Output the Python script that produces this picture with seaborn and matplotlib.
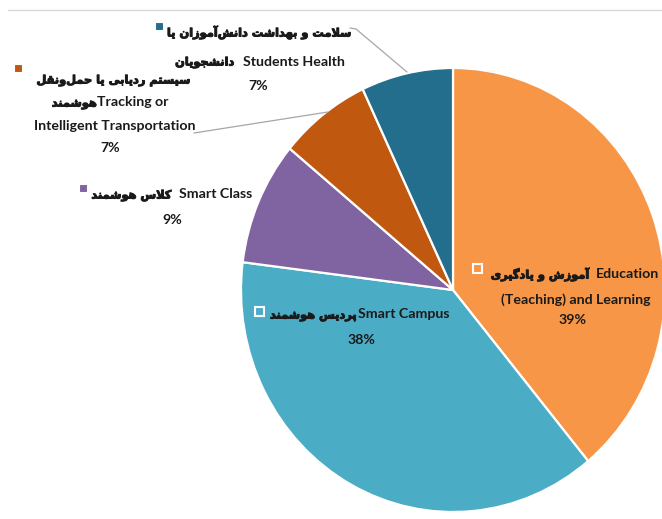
import matplotlib
matplotlib.use("Agg")
import matplotlib.pyplot as plt
import matplotlib.patheffects as pe
import seaborn as sns
from matplotlib.patches import Rectangle
from matplotlib.lines import Line2D

# ---- data -------------------------------------------------------------
categories_en = ["Education (Teaching) and Learning", "Smart Campus", "Smart Class",
                 "Tracking or Intelligent Transportation", "Students Health"]
categories_fa = ["آموزش و یادگیری", "پردیس هوشمند", "کلاس هوشمند",
                 "سیستم ردیابی یا حمل\u200cونقل هوشمند",
                 "سلامت و بهداشت دانش\u200cآموزان یا دانشجویان"]
shares = [39, 38, 9, 7, 7]
slice_colors = ["#F79646", "#4BACC6", "#8064A2", "#C0590F", "#236E8C"]

# ---- minimal Persian shaping (presentation forms + visual order) ------
FORMS = {
    "ا": ("\uFE8D", "\uFE8E"), "آ": ("\uFE81", "\uFE82"),
    "د": ("\uFEA9", "\uFEAA"), "ذ": ("\uFEAB", "\uFEAC"),
    "ر": ("\uFEAD", "\uFEAE"), "ز": ("\uFEAF", "\uFEB0"),
    "ژ": ("\uFB8A", "\uFB8B"), "و": ("\uFEED", "\uFEEE"),
    "ب": ("\uFE8F", "\uFE90", "\uFE91", "\uFE92"),
    "پ": ("\uFB56", "\uFB57", "\uFB58", "\uFB59"),
    "ت": ("\uFE95", "\uFE96", "\uFE97", "\uFE98"),
    "ث": ("\uFE99", "\uFE9A", "\uFE9B", "\uFE9C"),
    "ج": ("\uFE9D", "\uFE9E", "\uFE9F", "\uFEA0"),
    "چ": ("\uFB7A", "\uFB7B", "\uFB7C", "\uFB7D"),
    "ح": ("\uFEA1", "\uFEA2", "\uFEA3", "\uFEA4"),
    "خ": ("\uFEA5", "\uFEA6", "\uFEA7", "\uFEA8"),
    "س": ("\uFEB1", "\uFEB2", "\uFEB3", "\uFEB4"),
    "ش": ("\uFEB5", "\uFEB6", "\uFEB7", "\uFEB8"),
    "ص": ("\uFEB9", "\uFEBA", "\uFEBB", "\uFEBC"),
    "ض": ("\uFEBD", "\uFEBE", "\uFEBF", "\uFEC0"),
    "ط": ("\uFEC1", "\uFEC2", "\uFEC3", "\uFEC4"),
    "ظ": ("\uFEC5", "\uFEC6", "\uFEC7", "\uFEC8"),
    "ع": ("\uFEC9", "\uFECA", "\uFECB", "\uFECC"),
    "غ": ("\uFECD", "\uFECE", "\uFECF", "\uFED0"),
    "ف": ("\uFED1", "\uFED2", "\uFED3", "\uFED4"),
    "ق": ("\uFED5", "\uFED6", "\uFED7", "\uFED8"),
    "ک": ("\uFB8E", "\uFB8F", "\uFB90", "\uFB91"),
    "گ": ("\uFB92", "\uFB93", "\uFB94", "\uFB95"),
    "ل": ("\uFEDD", "\uFEDE", "\uFEDF", "\uFEE0"),
    "م": ("\uFEE1", "\uFEE2", "\uFEE3", "\uFEE4"),
    "ن": ("\uFEE5", "\uFEE6", "\uFEE7", "\uFEE8"),
    "ه": ("\uFEE9", "\uFEEA", "\uFEEB", "\uFEEC"),
    "ی": ("\uFBFC", "\uFBFD", "\uFBFE", "\uFBFF"),
}
LAM_ALEF = {"ا": ("\uFEFB", "\uFEFC"), "آ": ("\uFEF5", "\uFEF6")}


def dual(c):
    return c in FORMS and len(FORMS[c]) == 4


def fa(text):
    """Join Persian letters into presentation forms, return in visual order."""
    out = []
    i, n = 0, len(text)
    while i < n:
        c = text[i]
        if c not in FORMS:
            if c != "\u200c":
                out.append(c)
            i += 1
            continue
        prev_joins = i > 0 and dual(text[i - 1])
        if c == "ل" and i + 1 < n and text[i + 1] in LAM_ALEF:
            out.append(LAM_ALEF[text[i + 1]][1 if prev_joins else 0])
            i += 2
            continue
        next_joins = dual(c) and i + 1 < n and text[i + 1] in FORMS
        f = FORMS[c]
        if prev_joins and next_joins:
            out.append(f[3])
        elif prev_joins:
            out.append(f[1])
        elif next_joins:
            out.append(f[2])
        else:
            out.append(f[0])
        i += 1
    return "".join(out)[::-1]


# ---- label lines: each line is (segments, gap in px) -------------------
pct = [f"{v}%" for v in shares]
fa_w = [s.split(" ") for s in categories_fa]
en_w = [s.split(" ") for s in categories_en]

label_lines = [
    [([(fa(categories_fa[0]), "fa"), (en_w[0][0], "en")], 7),
     ([(" ".join(en_w[0][1:]), "en")], 0),
     ([(pct[0], "en")], 0)],
    [([(fa(categories_fa[1]), "fa"), (categories_en[1], "en")], 2),
     ([(pct[1], "en")], 0)],
    [([(fa(categories_fa[2]), "fa"), (categories_en[2], "en")], 8),
     ([(pct[2], "en")], 0)],
    [([(fa(" ".join(fa_w[3][:-1])), "fa")], 0),
     ([(fa(fa_w[3][-1]), "fa"), (" ".join(en_w[3][:2]), "en")], 0),
     ([(" ".join(en_w[3][2:]), "en")], 0),
     ([(pct[3], "en")], 0)],
    [([(fa(" ".join(fa_w[4][:-1])), "fa")], 0),
     ([(fa(fa_w[4][-1]), "fa"), (categories_en[4], "en")], 9),
     ([(pct[4], "en")], 0)],
]

# pixel layout of each label block: marker position and line centres
label_layout = [
    dict(marker=(477, 268), lines=[(575, 274), (576, 299), (573, 320)]),
    dict(marker=(259, 311), lines=[(360, 314), (361, 340)]),
    dict(marker=(83, 188), lines=[(172, 194), (172, 219)]),
    dict(marker=(18, 68), lines=[(113, 79), (110, 102), (115, 126), (110, 147)]),
    dict(marker=(159, 26), lines=[(259, 32), (260, 61), (258, 85)]),
]

# ---- figure -----------------------------------------------------------
sns.set_theme(style="white")
plt.rcParams["font.family"] = ["Lato", "DejaVu Sans"]

TEXT_COLOR = "#1a1a1a"
STYLES = {
    "fa": dict(family=["DejaVu Sans"], fontsize=8.2, fontweight="bold",
               path_effects=[pe.withStroke(linewidth=0.7, foreground=TEXT_COLOR)]),
    "en": dict(family=["Lato", "DejaVu Sans"], fontsize=10.2, fontweight="bold"),
}

W, H = 662, 519
fig = plt.figure(figsize=(W / 100, H / 100), dpi=100)
fig.patch.set_facecolor("white")

# pie axes: centre (453, 290), radii 212 x 222 px
cx, cy, rx, ry = 453, 290, 212, 222
ax = fig.add_axes([(cx - rx) / W, (H - cy - ry) / H, 2 * rx / W, 2 * ry / H])
palette = sns.color_palette(slice_colors)
ax.pie(shares, colors=palette, startangle=90, counterclock=False,
       wedgeprops=dict(edgecolor="white", linewidth=1.6))
ax.set_aspect("auto")
ax.set_xlim(-1, 1)
ax.set_ylim(-1, 1)
ax.axis("off")

# overlay axes in pixel units for labels and leader lines
ov = fig.add_axes([0, 0, 1, 1], zorder=5)
ov.set_xlim(0, W)
ov.set_ylim(H, 0)
ov.axis("off")
ov.patch.set_alpha(0)

ov.add_line(Line2D([8, W], [10, 10], color="#d9d9d9", lw=1.0))
ov.add_line(Line2D([350, 356, 407], [28, 29, 72], color="#a6a6a6", lw=0.9))
ov.add_line(Line2D([194, 328], [133, 112], color="#a6a6a6", lw=0.9))

renderer = fig.canvas.get_renderer()
for lines, lay, col in zip(label_lines, label_layout, palette):
    mx, my = lay["marker"]
    ov.add_patch(Rectangle((mx - 4.5, my - 4.5), 9, 9, facecolor=col,
                           edgecolor="white", lw=1.5))
    for (segs, gap), (tx, ty) in zip(lines, lay["lines"]):
        arts = [ov.text(0, ty + 4.5, s, ha="left", va="baseline",
                        color=TEXT_COLOR, **STYLES[k]) for s, k in segs]
        widths = [a.get_window_extent(renderer).width for a in arts]
        total = sum(widths) + gap * (len(arts) - 1)
        x = tx - total / 2
        for a, w in zip(arts, widths):
            a.set_x(x)
            x += w + gap

fig.savefig("out.png", dpi=100, facecolor="white")
